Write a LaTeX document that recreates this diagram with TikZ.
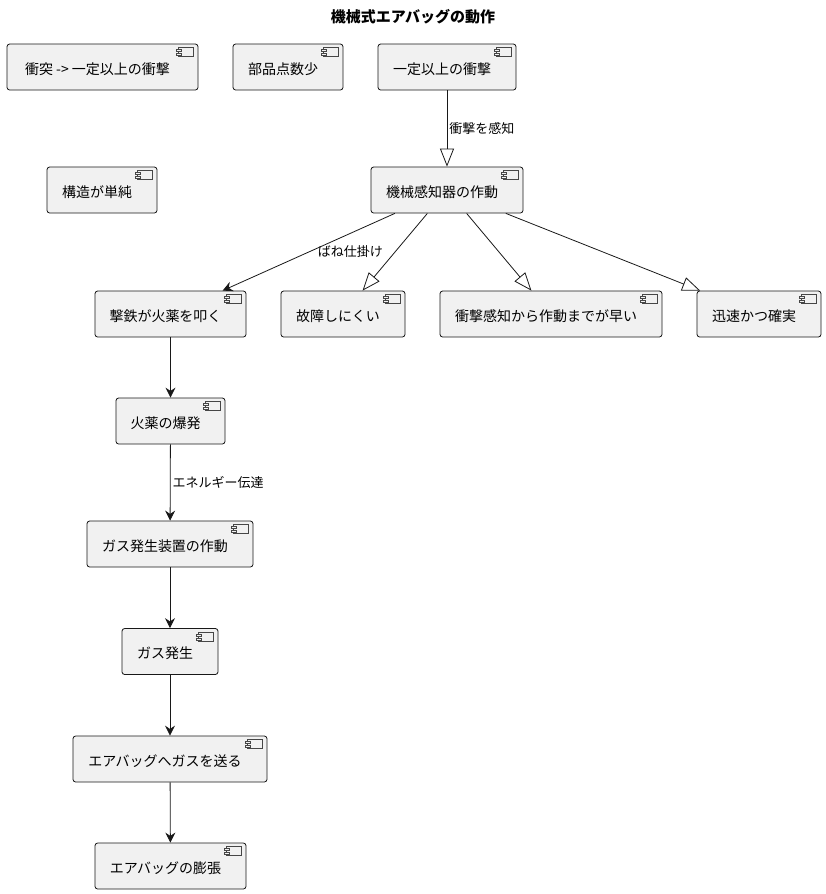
\documentclass[tikz,border=0pt]{standalone}
\usepackage{fontspec}
\setmainfont{Noto Sans CJK JP}
\usetikzlibrary{arrows.meta}
\definecolor{boxfill}{HTML}{F1F1F1}
\definecolor{umlline}{HTML}{181818}

\begin{document}
\begin{tikzpicture}[x=0.75pt, y=-0.75pt,
  comp/.style={draw=umlline, fill=boxfill, rounded corners=2pt, line width=0.6pt,
    minimum width=#1*0.75pt, minimum height=46*0.75pt, inner xsep=0pt,
    text height=17*0.75pt, text depth=3*0.75pt, font=\fontsize{10.5}{12}\selectfont,
    execute at begin node=\hspace*{-7.5pt}},
  icon/.style={draw=umlline!80, fill=boxfill, line width=0.4pt},
  flow/.style={draw=umlline, line width=0.6pt, -{Stealth[length=7.5pt, width=7.5pt, inset=2.5pt]}},
  ext/.style={draw=umlline, line width=0.6pt, -{Triangle[open, length=13.5pt, width=10.5pt]}},
  lbl/.style={font=\fontsize{9.75}{11}\selectfont, inner sep=1.5pt}]

\useasboundingbox (0,0) rectangle (826,894);

\node[font=\bfseries\fontsize{11.25}{13}\selectfont] (title) at (413,17) {機械式エアバッグの動作};

% top row
\node[comp=191] (shock) at (102.5,67) {衝突 -> 一定以上の衝撃};
\node[comp=110] (parts) at (288,67) {部品点数少};
\node[comp=138] (impact) at (447,67) {一定以上の衝撃};
\node[comp=110] (simple) at (102,190) {構造が単純};
\node[comp=152] (sensor) at (447,190) {機械感知器の作動};

% second row
\node[comp=151] (hammer) at (170.5,314) {撃鉄が火薬を叩く};
\node[comp=124] (robust) at (343,314) {故障しにくい};
\node[comp=222] (fast) at (551,314) {衝撃感知から作動までが早い};
\node[comp=124] (sure) at (759,314) {迅速かつ確実};

% chain
\node[comp=109] (blast) at (170.5,421) {火薬の爆発};
\node[comp=166] (inflator) at (170,544) {ガス発生装置の作動};
\node[comp=96] (gas) at (170,651.5) {ガス発生};
\node[comp=194] (send) at (170,759) {エアバッグへガスを送る};
\node[comp=151] (bag) at (170.5,866) {エアバッグの膨張};

% component icons
\foreach \n in {shock,parts,impact,simple,sensor,hammer,robust,fast,sure,blast,inflator,gas,send,bag}{
  \draw[icon] ([shift={(-20,4)}]\n.north east) rectangle ([shift={(-5,13)}]\n.north east);
  \draw[icon] ([shift={(-22,6)}]\n.north east) rectangle ([shift={(-17,8)}]\n.north east);
  \draw[icon] ([shift={(-22,10)}]\n.north east) rectangle ([shift={(-17,12)}]\n.north east);
}

\draw[ext] (impact) -- node[lbl, right] {衝撃を感知} (sensor);
\draw[flow] (sensor) -- node[lbl, right=5pt] {ばね仕掛け} (hammer);
\draw[ext] (sensor) -- (robust);
\draw[ext] (sensor) -- (fast);
\draw[ext] (sensor) -- (sure);

\draw[flow] (hammer) -- (blast);
\draw[flow] (blast) -- node[lbl, right] {エネルギー伝達} (inflator);
\draw[flow] (inflator) -- (gas);
\draw[flow] (gas) -- (send);
\draw[flow] (send) -- (bag);
\end{tikzpicture}
\end{document}
